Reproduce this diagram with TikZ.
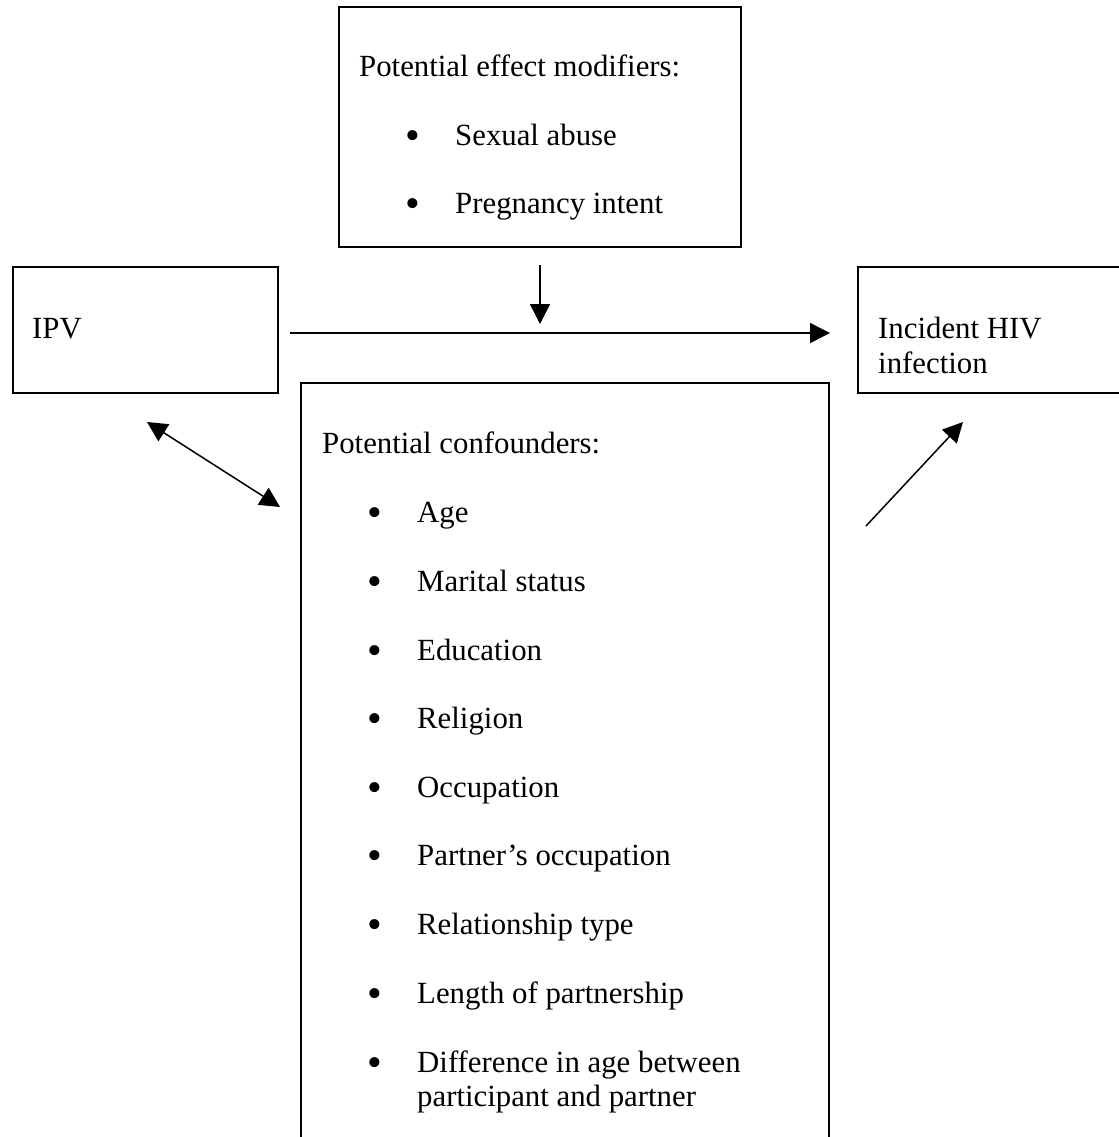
\documentclass[tikz,border=0pt]{standalone}
\usepackage{fontspec}
\setmainfont{Liberation Serif}
\usetikzlibrary{arrows.meta}
\begin{document}
\begin{tikzpicture}[x=1bp,y=-1bp,
  box/.style={draw, line width=1.6bp, rectangle, inner sep=0pt, anchor=north west},
  lbl/.style={anchor=base west, inner sep=0pt, font=\fontsize{30.8bp}{34bp}\selectfont},
  bul/.style={anchor=base, inner sep=0pt, font=\fontsize{42bp}{42bp}\selectfont},
  conn/.style={line width=1.5bp, -{Triangle[length=20bp,width=20bp]}},
  biconn/.style={line width=1.5bp, {Triangle[length=20bp,width=20bp]}-{Triangle[length=20bp,width=20bp]}}
  ]
\useasboundingbox (0,0) rectangle (1119,1137);
\clip (0,0) rectangle (1119,1137);
\fill[white] (0,0) rectangle (1119,1137);

% boxes
\node[box, minimum width=402bp, minimum height=240bp] (mod) at (338,6) {};
\node[box, minimum width=265bp, minimum height=126bp] (ipv) at (12,266) {};
\node[box, minimum width=300bp, minimum height=126bp] (hiv) at (857,266) {};
\node[box, minimum width=528bp, minimum height=820bp] (conf) at (300,382) {};

% effect modifiers
\node[lbl] (modt) at (359,76) {Potential effect modifiers:};
\node[bul] (modb1) at (413,149) {•};
\node[lbl] (mod1) at (455,145) {Sexual abuse};
\node[bul] (modb2) at (413,217) {•};
\node[lbl] (mod2) at (455,213) {Pregnancy intent};

% exposure and outcome
\node[lbl] (ipvt) at (32,338) {IPV};
\node[lbl] (hivt1) at (878,338) {Incident HIV};
\node[lbl] (hivt2) at (878,373) {infection};

% confounders
\node[lbl] (conft) at (322,453) {Potential confounders:};
\foreach \y/\t [count=\i] in {522/Age, 591/Marital status, 660/Education,
    728/Religion, 797/Occupation, 865/Partner’s occupation,
    934/Relationship type, 1003/Length of partnership,
    1072/Difference in age between}{
  \node[bul] (confb\i) at (375,\y+4) {•};
  \node[lbl] (conf\i) at (417,\y) {\t};
}
\node[lbl] (conf9b) at (417,1106) {participant and partner};

% connectors
\coordinate (h1) at (290,333);
\coordinate (h2) at (830,333);
\coordinate (v1) at (540,265);
\coordinate (v2) at (540,324);
\coordinate (d1) at (147,422);
\coordinate (d2) at (280,507);
\coordinate (e1) at (866,526);
\coordinate (e2) at (963,422);

\draw[conn] (h1) -- (h2);
\draw[conn] (v1) -- (v2);
\draw[biconn] (d1) -- (d2);
\draw[conn] (e1) -- (e2);
\end{tikzpicture}
\end{document}
